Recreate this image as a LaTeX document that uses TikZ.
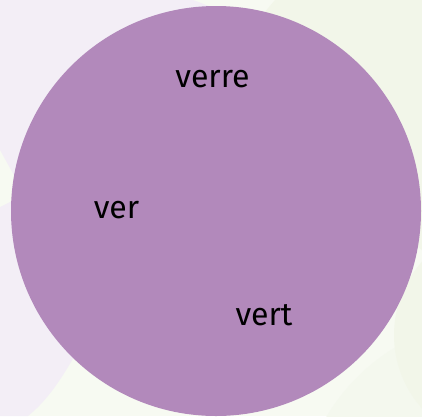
\documentclass[tikz,border=0pt]{standalone}
\usepackage{fontspec}
\setmainfont{Fira Sans}
\definecolor{bgtint}{HTML}{F7FAF2}
\definecolor{lavtint}{HTML}{F3EEF6}
\definecolor{greentint}{HTML}{F2F6E9}
\definecolor{greenfaint}{HTML}{F4F8EE}
\definecolor{setpurple}{HTML}{B289BB}
\tikzset{
  lavregion/.style={fill=lavtint, draw=none},
  greenregion/.style={fill=greentint, draw=none},
  faintregion/.style={fill=greenfaint, draw=none},
  setcircle/.style={circle, fill=setpurple, draw=none, minimum size=410pt, inner sep=0pt},
  word/.style={font=\fontsize{32}{38}\selectfont, text=black, anchor=base, inner sep=0pt}
}
\begin{document}
\begin{tikzpicture}[x=1pt, y=-1pt]
  \useasboundingbox (0,0) rectangle (422,416);
  \clip (0,0) rectangle (422,416);
  % background
  \fill[bgtint] (0,0) rectangle (422,416);
  % faint background set regions
  \fill[faintregion] (500,520) circle (202);
  \fill[greenregion] (504,335) circle (110);
  \fill[greenregion] (275,0) -- (422,0) -- (422,250) -- (300,150) -- (258,20) -- cycle;
  \fill[lavregion] (0,0) -- (193,0) .. controls (210,6) and (230,15) .. (250,30)
        -- (200,150) -- (25,195) -- (0,150) -- cycle;
  \fill[lavregion] (0,207) -- (20,197) -- (150,300) -- (78,350)
        .. controls (62,378) and (48,400) .. (28,416) -- (0,416) -- cycle;
  % highlighted set
  \node[setcircle] (set) at (216,211) {};
  % words
  \node[word] (verre) at (212.5,87) {verre};
  \node[word] (ver) at (116.5,218) {ver};
  \node[word] (vert) at (264,325) {vert};
\end{tikzpicture}
\end{document}
